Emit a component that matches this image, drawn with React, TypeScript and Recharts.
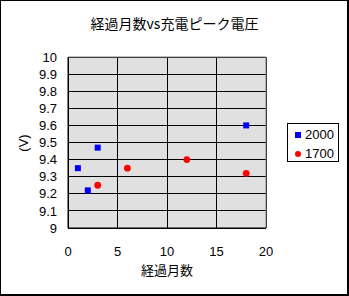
import React from 'react';
import {
  ScatterChart,
  Scatter,
  XAxis,
  YAxis,
  CartesianGrid,
  Legend,
  ReferenceLine,
} from 'recharts';

const FONT = '"Noto Sans CJK JP", "Noto Sans", sans-serif';
const NUM_FONT = '"Liberation Sans", Arial, sans-serif';

// series "2000"
const months2000 = [1, 2, 3, 18];
const volts2000 = [9.35, 9.22, 9.47, 9.6];
// series "1700"
const months1700 = [3, 6, 12, 18];
const volts1700 = [9.25, 9.35, 9.4, 9.32];

const xTicks = [0, 5, 10, 15, 20];
const yTicks = [9, 9.1, 9.2, 9.3, 9.4, 9.5, 9.6, 9.7, 9.8, 9.9, 10];

const title = '経過月数vs充電ピーク電圧';
const xLabel = '経過月数';
const yLabel = '(V)';

const data2000 = months2000.map((m, i) => ({ month: m, volt: volts2000[i] }));
const data1700 = months1700.map((m, i) => ({ month: m, volt: volts1700[i] }));

const Square = (p: any) => (
  <rect x={p.cx - 3} y={p.cy - 3} width={6} height={6} fill="#0000ff" />
);
const Dot = (p: any) => <circle cx={p.cx} cy={p.cy} r={3.4} fill="#ff0000" />;

// legend box like the Excel one on the right
const renderLegend = () => (
  <div
    style={{
      width: 52,
      height: 39,
      boxSizing: 'border-box',
      border: '1px solid #000',
      background: '#fff',
      fontFamily: NUM_FONT,
      fontSize: 13,
      position: 'relative',
    }}
  >
    {[
      { name: '2000', color: '#0000ff', sq: true },
      { name: '1700', color: '#ff0000', sq: false },
    ].map((e, i) => (
      <div key={e.name} style={{ position: 'absolute', left: 0, top: 2 + i * 19, height: 17, width: 50 }}>
        <span
          style={{
            position: 'absolute',
            left: 7,
            top: 6,
            width: 6,
            height: 6,
            background: e.color,
            borderRadius: e.sq ? 0 : 3,
          }}
        />
        <span style={{ position: 'absolute', left: 17, top: 0, lineHeight: '17px' }}>{e.name}</span>
      </div>
    ))}
  </div>
);

const fmt = (v: number) => String(parseFloat(v.toFixed(1)));

export default function App() {
  return (
    <div
      style={{
        position: 'absolute',
        left: 0,
        top: 0,
        width: 349,
        height: 296,
        background: '#fff',
        boxSizing: 'border-box',
        borderLeft: '1px solid #000',
        borderTop: '1px solid #000',
        borderRight: '2px solid #000',
        borderBottom: '2px solid #000',
        fontFamily: FONT,
      }}
    >
      <div
        style={{
          position: 'absolute',
          left: -1,
          top: 12,
          width: 349,
          textAlign: 'center',
          fontSize: 14,
          lineHeight: '20px',
          color: '#000',
        }}
      >
        {title}
      </div>
      <div style={{ position: 'absolute', left: -1, top: -1 }}>
        <ScatterChart
          width={349}
          height={296}
          margin={{ top: 57, right: 83, bottom: 38, left: 0 }}
          style={{ fontFamily: FONT }}
        >
          <CartesianGrid stroke="#000" fill="#e0e0e0" fillOpacity={1} shapeRendering="crispEdges" />
          <XAxis
            type="number"
            dataKey="month"
            domain={[0, 20]}
            ticks={xTicks}
            tickLine={false}
            tickSize={0}
            tickMargin={19}
            height={30}
            axisLine={{ stroke: '#000' }}
            tick={{ fill: '#000', fontSize: 13, fontFamily: NUM_FONT }}
            label={{ value: xLabel, position: 'bottom', offset: 8, fill: '#000', fontSize: 13 }}
          />
          <YAxis
            type="number"
            dataKey="volt"
            domain={[9, 10]}
            ticks={yTicks}
            tickFormatter={fmt}
            interval={0}
            tickLine={false}
            tickSize={0}
            tickMargin={11}
            width={68}
            axisLine={{ stroke: '#000' }}
            tick={{ fill: '#000', fontSize: 13, fontFamily: NUM_FONT }}
            label={{
              content: () => (
                <text
                  x={23}
                  y={143}
                  transform="rotate(-90 23 143)"
                  textAnchor="middle"
                  dominantBaseline="central"
                  fontSize={13}
                  fontFamily={NUM_FONT}
                  fill="#000"
                >
                  {yLabel}
                </text>
              ),
            }}
          />
          <ReferenceLine y={10} stroke="#808080" ifOverflow="visible" />
          <ReferenceLine x={20} stroke="#808080" ifOverflow="visible" />
          <Legend
            layout="vertical"
            align="center"
            verticalAlign="middle"
            content={renderLegend}
            wrapperStyle={{ position: 'absolute', left: 287, top: 123, width: 52, height: 39 }}
          />
          <Scatter name="2000" data={data2000} shape={Square} isAnimationActive={false} />
          <Scatter name="1700" data={data1700} shape={Dot} isAnimationActive={false} />
        </ScatterChart>
      </div>
    </div>
  );
}
